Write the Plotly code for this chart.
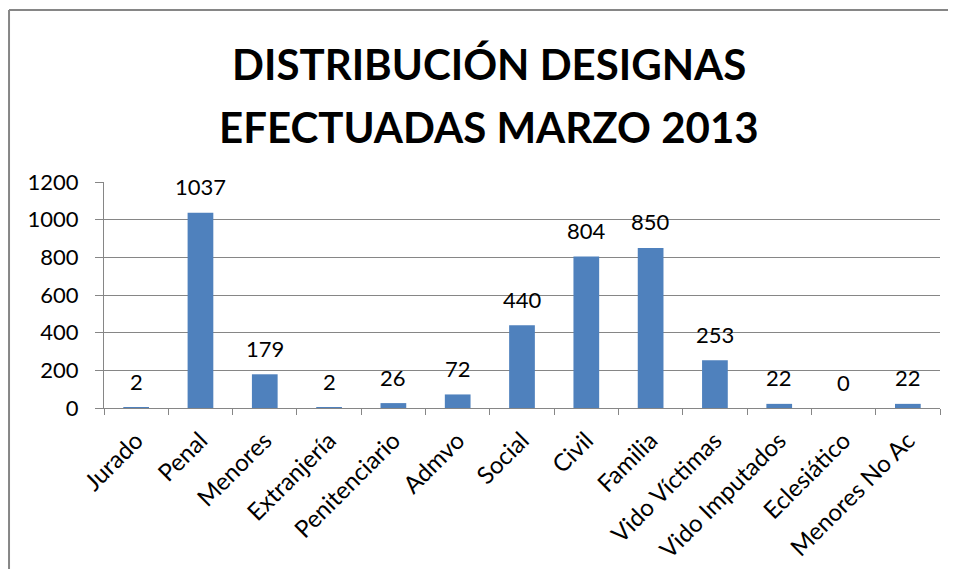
import plotly.graph_objects as go

categories = ["Jurado", "Penal", "Menores", "Extranjería", "Penitenciario", "Admvo", "Social",
              "Civil", "Familia", "Vido Víctimas", "Vido Imputados", "Eclesiático", "Menores No Ac"]
values = [2, 1037, 179, 2, 26, 72, 440, 804, 850, 253, 22, 0, 22]
y_ticks = [0, 200, 400, 600, 800, 1000, 1200]
title_lines = ["DISTRIBUCIÓN DESIGNAS", "EFECTUADAS MARZO 2013"]

FONT = "Lato, 'Open Sans', sans-serif"
GRAY = "#868686"

fig = go.Figure(go.Bar(
    x=categories, y=values,
    marker=dict(color="#4F81BD", line=dict(width=0)),
    hoverinfo="x+y",
))

# data labels above the bars
for c, v in zip(categories, values):
    fig.add_annotation(x=c, y=v, xref="x", yref="y", text=str(v), showarrow=False,
                       yanchor="middle", yshift=26,
                       font=dict(size=22, family=FONT, color="black"))

# title (two lines)
for i, line in enumerate(title_lines):
    fig.add_annotation(x=0.4605, y=[1.52, 1.245][i], xref="paper", yref="paper",
                       text="<b>%s</b>" % line, showarrow=False,
                       xanchor="center", yanchor="middle",
                       font=dict(size=42, family=FONT, color="black"))

# page body has an 8px margin: the figure is offset by (8, 8); keep it inside the window
fig.update_layout(
    width=940, height=561,
    margin=dict(l=96, r=8, t=174, b=161, autoexpand=False),
    paper_bgcolor="white", plot_bgcolor="white",
    bargap=0.6,
    showlegend=False,
    font=dict(family=FONT, color="black"),
)
fig.update_yaxes(range=[0, 1200], tickvals=y_ticks, showgrid=True, gridcolor=GRAY, gridwidth=1,
                 showline=True, linecolor=GRAY, linewidth=1, ticks="outside", ticklen=8, tickcolor=GRAY,
                 ticklabelstandoff=12, automargin=False,
                 tickfont=dict(size=22, family=FONT, color="black"), zeroline=False)
fig.update_xaxes(showline=True, linecolor=GRAY, linewidth=1, ticks="outside", ticklen=6, tickcolor=GRAY,
                 tickson="boundaries", tickangle=-45, automargin=False, ticklabelstandoff=8,
                 tickfont=dict(size=24, family=FONT, color="black"))

# chart-area border: only the left and top edges are visible in the window
fig.add_shape(type="line", xref="paper", yref="paper", x0=-0.1136, x1=-0.1136, y0=-1.5, y1=1.761,
              line=dict(color=GRAY, width=2), layer="below")
fig.add_shape(type="line", xref="paper", yref="paper", x0=-0.1136, x1=1.3, y0=1.761, y1=1.761,
              line=dict(color=GRAY, width=2), layer="below")

fig.write_html("out.html")
